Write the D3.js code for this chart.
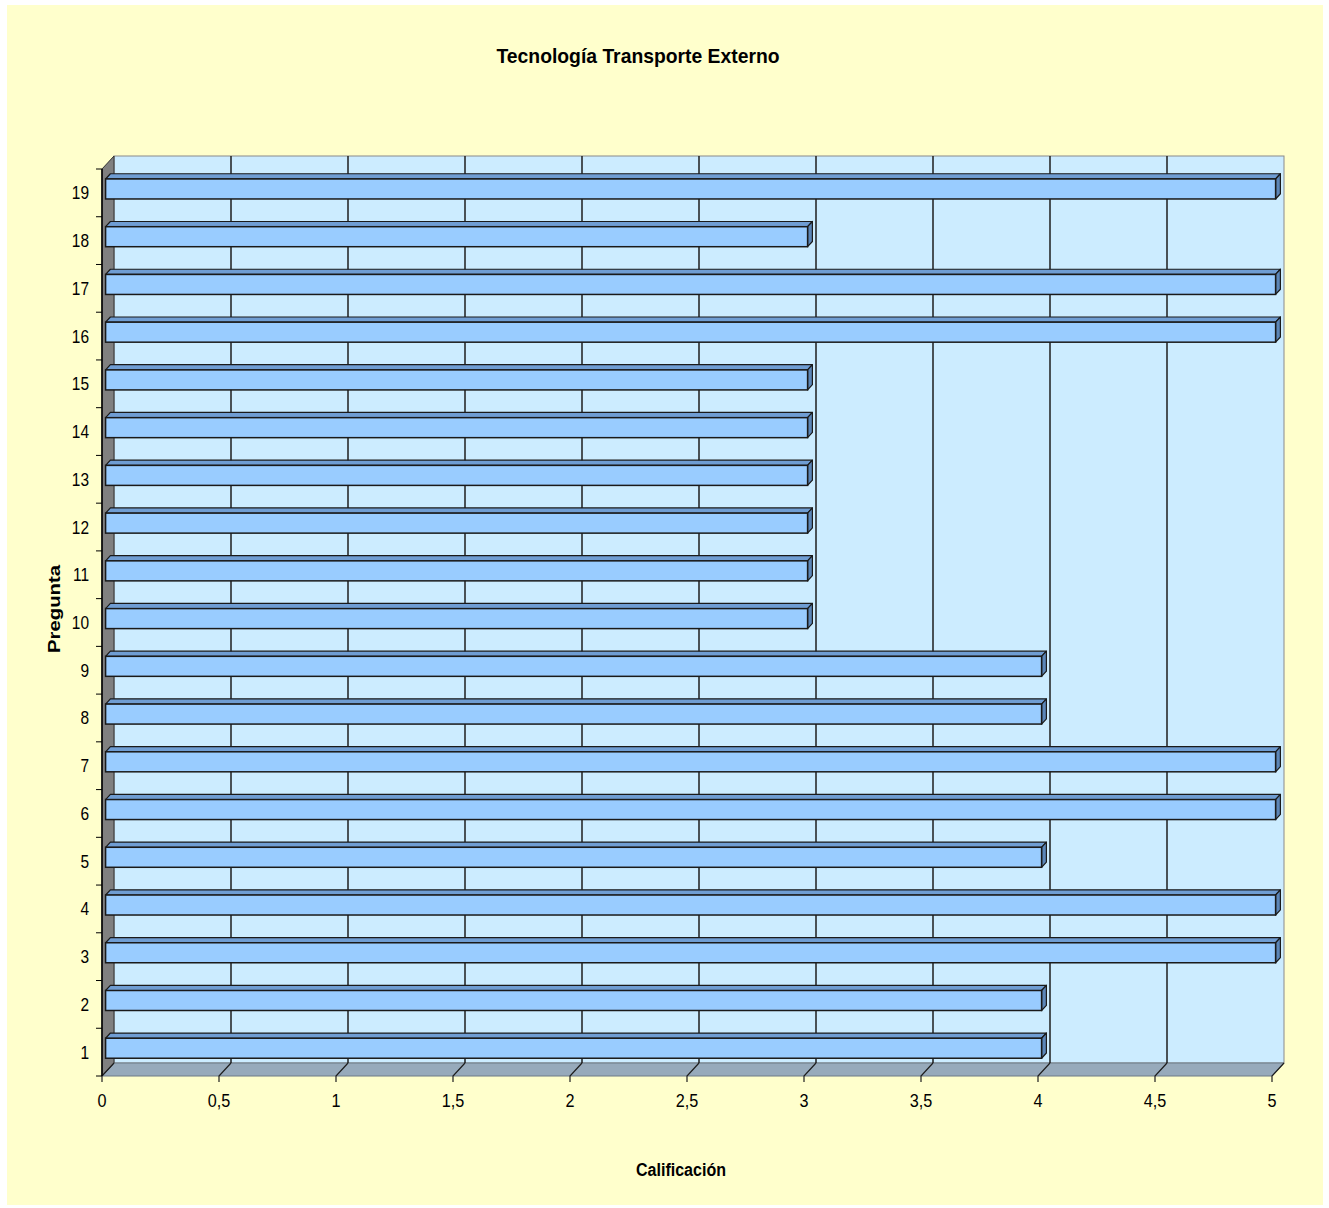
<!DOCTYPE html>
<html>
<head>
<meta charset="utf-8">
<script src="https://cdn.jsdelivr.net/npm/d3@7"></script>
<style>
  html, body { margin: 0; padding: 0; background: #ffffff; }
  svg { display: block; }
  text { font-family: "Liberation Sans", Arial, sans-serif; fill: #000; }
</style>
</head>
<body>
<script>
// Data
const categories = ["1","2","3","4","5","6","7","8","9","10","11","12","13","14","15","16","17","18","19"];
const values = [4, 4, 5, 5, 4, 5, 5, 4, 4, 3, 3, 3, 3, 3, 3, 5, 5, 3, 5];
const xTicks = [0, 0.5, 1, 1.5, 2, 2.5, 3, 3.5, 4, 4.5, 5];
const titleText = "Tecnología Transporte Externo";
const xTitle = "Calificación";
const yTitle = "Pregunta";

const W = 1329, H = 1208;
// front plane of the 3-D box and its depth offset
const plot = { left: 102, right: 1272, top: 169, bottom: 1076 };
const depth = { dx: 12, dy: 13 };

const svg = d3.select("body").append("svg").attr("width", W).attr("height", H);

// chart background
svg.append("rect").attr("x", 7).attr("y", 5).attr("width", 1316).attr("height", 1200).attr("fill", "#FFFFCC");

const x = d3.scaleLinear().domain([0, 5]).range([plot.left, plot.right]);
const y = d3.scaleBand().domain(categories).range([plot.bottom, plot.top]).padding(0);

const poly = pts => pts.map(p => p.join(",")).join(" ");

// squeeze text horizontally around its anchor point
function place(sel, px, py, sx) {
  sel.attr("x", 0).attr("y", 0).attr("transform", `translate(${px},${py}) scale(${sx},1)`);
}

// back wall
const bx0 = x(0) + depth.dx, bx1 = x(5) + depth.dx;
const by0 = plot.top - depth.dy, by1 = plot.bottom - depth.dy;
svg.append("rect").attr("x", bx0).attr("y", by0).attr("width", bx1 - bx0).attr("height", by1 - by0)
  .attr("fill", "#CCECFF").attr("stroke", "#8a8a8a").attr("stroke-width", 1);

// floor
svg.append("polygon")
  .attr("points", poly([[x(0), plot.bottom], [bx0, by1], [bx1, by1], [x(5), plot.bottom]]))
  .attr("fill", "#97AABB").attr("stroke", "#6d7a86").attr("stroke-width", 1);

// side wall
svg.append("polygon")
  .attr("points", poly([[x(0), plot.top], [bx0, by0], [bx0, by1], [x(0), plot.bottom]]))
  .attr("fill", "#808080").attr("stroke", "#333", "stroke-width", 1);

// gridlines on the back wall and across the floor
const grid = svg.append("g").attr("stroke", "#1e1e1e").attr("stroke-width", 1.5).attr("fill", "none");
xTicks.forEach(t => {
  const bx = x(t) + depth.dx;
  if (t > 0 && t < 5) {
    grid.append("line").attr("x1", bx).attr("x2", bx).attr("y1", by0).attr("y2", by1);
  }
  grid.append("polyline")
    .attr("points", poly([[bx, by1], [x(t), plot.bottom], [x(t), plot.bottom + 6]]))
    .attr("stroke-width", 1.2);
});

// value axis baseline and category axis line
svg.append("line").attr("x1", x(0)).attr("x2", x(0)).attr("y1", plot.top).attr("y2", plot.bottom)
  .attr("stroke", "#000").attr("stroke-width", 1.5);

// category ticks
const cTicks = d3.range(categories.length + 1).map(i => plot.bottom - i * y.step());
svg.append("g").selectAll("line").data(cTicks).join("line")
  .attr("x1", x(0) - 6).attr("x2", x(0)).attr("y1", d => d).attr("y2", d => d)
  .attr("stroke", "#000").attr("stroke-width", 1);

// bars
const barH = 20;
const f1 = 0.3, f2 = 0.7;
const fdx = depth.dx * f1, fdy = depth.dy * f1;
const ddx = depth.dx * (f2 - f1), ddy = depth.dy * (f2 - f1);
const bars = svg.append("g").selectAll("g")
  .data(categories.map((c, i) => ({ c, v: values[i] })).reverse())
  .join("g");

bars.each(function(d) {
  const g = d3.select(this);
  const yc = y(d.c) + y.bandwidth() / 2 - fdy;
  const x1 = x(0) + fdx, x2 = x(d.v) + fdx;
  const y1 = yc - barH / 2, y2 = yc + barH / 2;
  g.append("polygon")
    .attr("points", poly([[x1, y1], [x2, y1], [x2 + ddx, y1 - ddy], [x1 + ddx, y1 - ddy]]))
    .attr("fill", "#6F9DD3").attr("stroke", "#1a1a1a").attr("stroke-width", 1.2).attr("stroke-linejoin", "round");
  g.append("polygon")
    .attr("points", poly([[x2, y1], [x2 + ddx, y1 - ddy], [x2 + ddx, y2 - ddy], [x2, y2]]))
    .attr("fill", "#5C86B8").attr("stroke", "#1a1a1a").attr("stroke-width", 1.2).attr("stroke-linejoin", "round");
  g.append("rect").attr("x", x1).attr("y", y1).attr("width", x2 - x1).attr("height", barH)
    .attr("fill", "#99CCFF").attr("stroke", "#1a1a1a").attr("stroke-width", 1.5);
});

// category labels
svg.append("g").selectAll("text").data(categories).join("text")
  .attr("text-anchor", "end").attr("font-size", 18)
  .each(function(d) {
    place(d3.select(this), 89, y(d) + y.bandwidth() / 2 + 6.5, 0.86);
  })
  .text(d => d);

// value labels
svg.append("g").selectAll("text").data(xTicks).join("text")
  .attr("text-anchor", "middle").attr("font-size", 18)
  .each(function(d) {
    place(d3.select(this), x(d), 1107, 0.9);
  })
  .text(d => String(d).replace(".", ","));

// titles
svg.append("text").attr("x", 638).attr("y", 63).attr("text-anchor", "middle")
  .attr("font-size", 21).attr("font-weight", "bold")
  .attr("textLength", 283).attr("lengthAdjust", "spacingAndGlyphs")
  .text(titleText);

svg.append("text").attr("x", 681).attr("y", 1176).attr("text-anchor", "middle")
  .attr("font-size", 18).attr("font-weight", "bold")
  .attr("textLength", 90).attr("lengthAdjust", "spacingAndGlyphs")
  .text(xTitle);

svg.append("text").attr("transform", "translate(60,609) rotate(-90)").attr("text-anchor", "middle")
  .attr("font-size", 17).attr("font-weight", "bold")
  .attr("textLength", 88).attr("lengthAdjust", "spacingAndGlyphs")
  .text(yTitle);
</script>
</body>
</html>
